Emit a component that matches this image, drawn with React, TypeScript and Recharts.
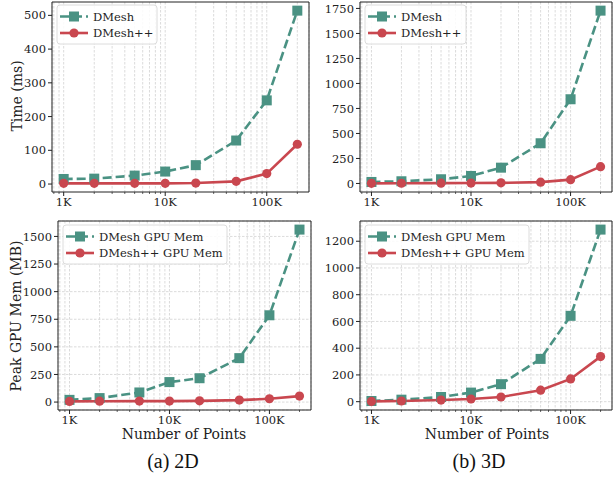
import React from "react";
import { LineChart, Line, XAxis, YAxis, CartesianGrid, ReferenceArea } from "recharts";

const points = [1000, 2000, 5000, 10000, 20000, 50000, 100000, 200000];
const time2dDMesh = [15, 16, 25, 37, 56, 129, 248, 514];
const time2dDMeshPP = [2, 2, 2, 2, 3, 8, 31, 118];
const time3dDMesh = [15, 22, 42, 75, 158, 402, 842, 1728];
const time3dDMeshPP = [1, 2, 3, 4, 6, 13, 38, 168];
const mem2dDMesh = [20, 36, 87, 181, 216, 398, 786, 1562];
const mem2dDMeshPP = [6, 8, 9, 9, 11, 18, 30, 54];
const mem3dDMesh = [5, 15, 35, 68, 131, 320, 642, 1287];
const mem3dDMeshPP = [2, 5, 12, 20, 35, 86, 170, 337];

const majorXTicks = [1000, 10000, 100000];
const minorXTicks = [800, 900, 2000, 3000, 4000, 5000, 6000, 7000, 8000, 9000, 20000, 30000, 40000, 50000, 60000, 70000, 80000, 90000, 200000];
const xTickLabels: Record<number, string> = { 1000: "1K", 10000: "10K", 100000: "100K" };

const yTicksTime2d = [0, 100, 200, 300, 400, 500];
const yTicksTime3d = [0, 250, 500, 750, 1000, 1250, 1500, 1750];
const yTicksMem2d = [0, 250, 500, 750, 1000, 1250, 1500];
const yTicksMem3d = [0, 200, 400, 600, 800, 1000, 1200];

const TEAL = "#4a9283";
const RED = "#c9474f";
const FONT = "'DejaVu Serif', serif";

const allX = [...majorXTicks, ...minorXTicks].sort((a, b) => a - b);

const logDomain = (): [number, number] => {
  const lo = Math.log10(points[0]);
  const hi = Math.log10(points[points.length - 1]);
  const m = (hi - lo) * 0.05;
  return [Math.pow(10, lo - m), Math.pow(10, hi + m)];
};
const linDomain = (a: number[], b: number[]): [number, number] => {
  const all = [...a, ...b];
  const mn = Math.min(...all);
  const mx = Math.max(...all);
  const m = (mx - mn) * 0.05;
  return [mn - m, mx + m];
};

const XTick = (props: any) => {
  const { x, y, payload } = props;
  const v = payload.value;
  const major = majorXTicks.includes(v);
  return (
    <g>
      <line x1={x} x2={x} y1={y} y2={y + (major ? 4 : 2)} stroke="#222" strokeWidth={major ? 1 : 0.7} />
      {major && (
        <text x={x} y={y + 5} dy="0.8em" textAnchor="middle" fontFamily={FONT} fontSize={11.5} fill="#222">
          {xTickLabels[v]}
        </text>
      )}
    </g>
  );
};

const YTick = (props: any) => {
  const { x, y, payload } = props;
  return (
    <g>
      <line x1={x - 4} x2={x} y1={y} y2={y} stroke="#222" strokeWidth={1} />
      <text x={x - 6} y={y} dy="0.36em" textAnchor="end" fontFamily={FONT} fontSize={11.5} fill="#222">
        {payload.value}
      </text>
    </g>
  );
};

const SquareDot = (props: any) => {
  const { cx, cy } = props;
  if (cx == null || cy == null) return null;
  return <rect x={cx - 5} y={cy - 5} width={10} height={10} fill={TEAL} />;
};

type PanelProps = {
  a: number[];
  b: number[];
  yTicks: number[];
  width: number;
  height: number;
  margin: { top: number; right: number; bottom: number; left: number };
  hGrid: boolean;
};

const Panel = ({ a, b, yTicks, width, height, margin, hGrid }: PanelProps) => {
  const data = points.map((p, i) => ({ n: p, dmesh: a[i], dmeshpp: b[i] }));
  const xd = logDomain();
  const yd = linDomain(a, b);
  return (
    <LineChart width={width} height={height} data={data} margin={margin}>
      <CartesianGrid vertical={true} horizontal={hGrid} stroke="#d2d2d2" strokeDasharray="2.5 1.5" strokeWidth={0.8} />
      <XAxis
        dataKey="n"
        type="number"
        scale="log"
        domain={xd}
        allowDataOverflow
        ticks={allX}
        interval={0}
        tick={<XTick />}
        tickSize={0}
        tickMargin={0}
        tickLine={false}
        axisLine={false}
        height={20}
      />
      <YAxis
        type="number"
        domain={yd}
        allowDataOverflow
        ticks={yTicks}
        interval={0}
        tick={<YTick />}
        tickSize={0}
        tickMargin={0}
        tickLine={false}
        axisLine={false}
        width={40}
      />
      <Line type="linear" dataKey="dmesh" stroke={TEAL} strokeWidth={2.6} strokeDasharray="9 4" dot={<SquareDot />} isAnimationActive={false} />
      <Line type="linear" dataKey="dmeshpp" stroke={RED} strokeWidth={2.6} dot={{ r: 4.6, fill: RED, stroke: RED, strokeWidth: 0 }} isAnimationActive={false} />
      <ReferenceArea x1={xd[0]} x2={xd[1]} y1={yd[0]} y2={yd[1]} fill="none" stroke="#222" strokeWidth={1} ifOverflow="visible" />
    </LineChart>
  );
};

const LegendBox = ({ x, y, w, labels }: { x: number; y: number; w: number; labels: string[] }) => (
  <g>
    <rect x={x} y={y} width={w} height={39} rx={3} fill="#ffffff" fillOpacity={0.85} stroke="#dcdcdc" strokeWidth={1} />
    <line x1={x + 3} x2={x + 31} y1={y + 11.5} y2={y + 11.5} stroke={TEAL} strokeWidth={2.6} strokeDasharray="9 4" />
    <rect x={x + 12} y={y + 6.5} width={10} height={10} fill={TEAL} />
    <text x={x + 36} y={y + 11.5} dy="0.36em" fontFamily={FONT} fontSize={11.5} fill="#222">{labels[0]}</text>
    <line x1={x + 3} x2={x + 31} y1={y + 28} y2={y + 28} stroke={RED} strokeWidth={2.6} />
    <circle cx={x + 17} cy={y + 28} r={4.6} fill={RED} />
    <text x={x + 36} y={y + 28} dy="0.36em" fontFamily={FONT} fontSize={11.5} fill="#222">{labels[1]}</text>
  </g>
);

export default function App() {
  return (
    <div style={{ position: "absolute", left: 0, top: 0, width: 613, height: 478, background: "#fff" }}>
      <div style={{ position: "absolute", left: 0, top: 0 }}>
        <Panel a={time2dDMesh} b={time2dDMeshPP} yTicks={yTicksTime2d} width={310} height={215} margin={{ top: 2, right: 1, bottom: 3, left: 12 }} hGrid={false} />
      </div>
      <div style={{ position: "absolute", left: 310, top: 0 }}>
        <Panel a={time3dDMesh} b={time3dDMeshPP} yTicks={yTicksTime3d} width={303} height={215} margin={{ top: 2, right: 1, bottom: 3, left: 10 }} hGrid={false} />
      </div>
      <div style={{ position: "absolute", left: 0, top: 215 }}>
        <Panel a={mem2dDMesh} b={mem2dDMeshPP} yTicks={yTicksMem2d} width={312} height={235} margin={{ top: 6, right: 1, bottom: 20, left: 18 }} hGrid={true} />
      </div>
      <div style={{ position: "absolute", left: 310, top: 215 }}>
        <Panel a={mem3dDMesh} b={mem3dDMeshPP} yTicks={yTicksMem3d} width={303} height={235} margin={{ top: 6, right: 1, bottom: 20, left: 10 }} hGrid={true} />
      </div>
      <svg width={613} height={478} style={{ position: "absolute", left: 0, top: 0, pointerEvents: "none" }}>
        <LegendBox x={57} y={5} w={100} labels={["DMesh", "DMesh++"]} />
        <LegendBox x={365} y={5} w={101} labels={["DMesh", "DMesh++"]} />
        <LegendBox x={63} y={225} w={164} labels={["DMesh GPU Mem", "DMesh++ GPU Mem"]} />
        <LegendBox x={365} y={225} w={164} labels={["DMesh GPU Mem", "DMesh++ GPU Mem"]} />
        <text x={17} y={96} transform="rotate(-90 17 96)" textAnchor="middle" dy="0.36em" fontFamily={FONT} fontSize={14} fill="#222">Time (ms)</text>
        <text x={16} y={316} transform="rotate(-90 16 316)" textAnchor="middle" dy="0.36em" fontFamily={FONT} fontSize={14} fill="#222">Peak GPU Mem (MB)</text>
        <text x={184} y={434} textAnchor="middle" dy="0.36em" fontFamily={FONT} fontSize={14} fill="#222">Number of Points</text>
        <text x={487} y={434} textAnchor="middle" dy="0.36em" fontFamily={FONT} fontSize={14} fill="#222">Number of Points</text>
        <text x={173} y={468} textAnchor="middle" fontFamily="'Liberation Serif', 'Times New Roman', serif" fontSize={20} fill="#111">(a) 2D</text>
        <text x={479} y={468} textAnchor="middle" fontFamily="'Liberation Serif', 'Times New Roman', serif" fontSize={20} fill="#111">(b) 3D</text>
      </svg>
    </div>
  );
}
